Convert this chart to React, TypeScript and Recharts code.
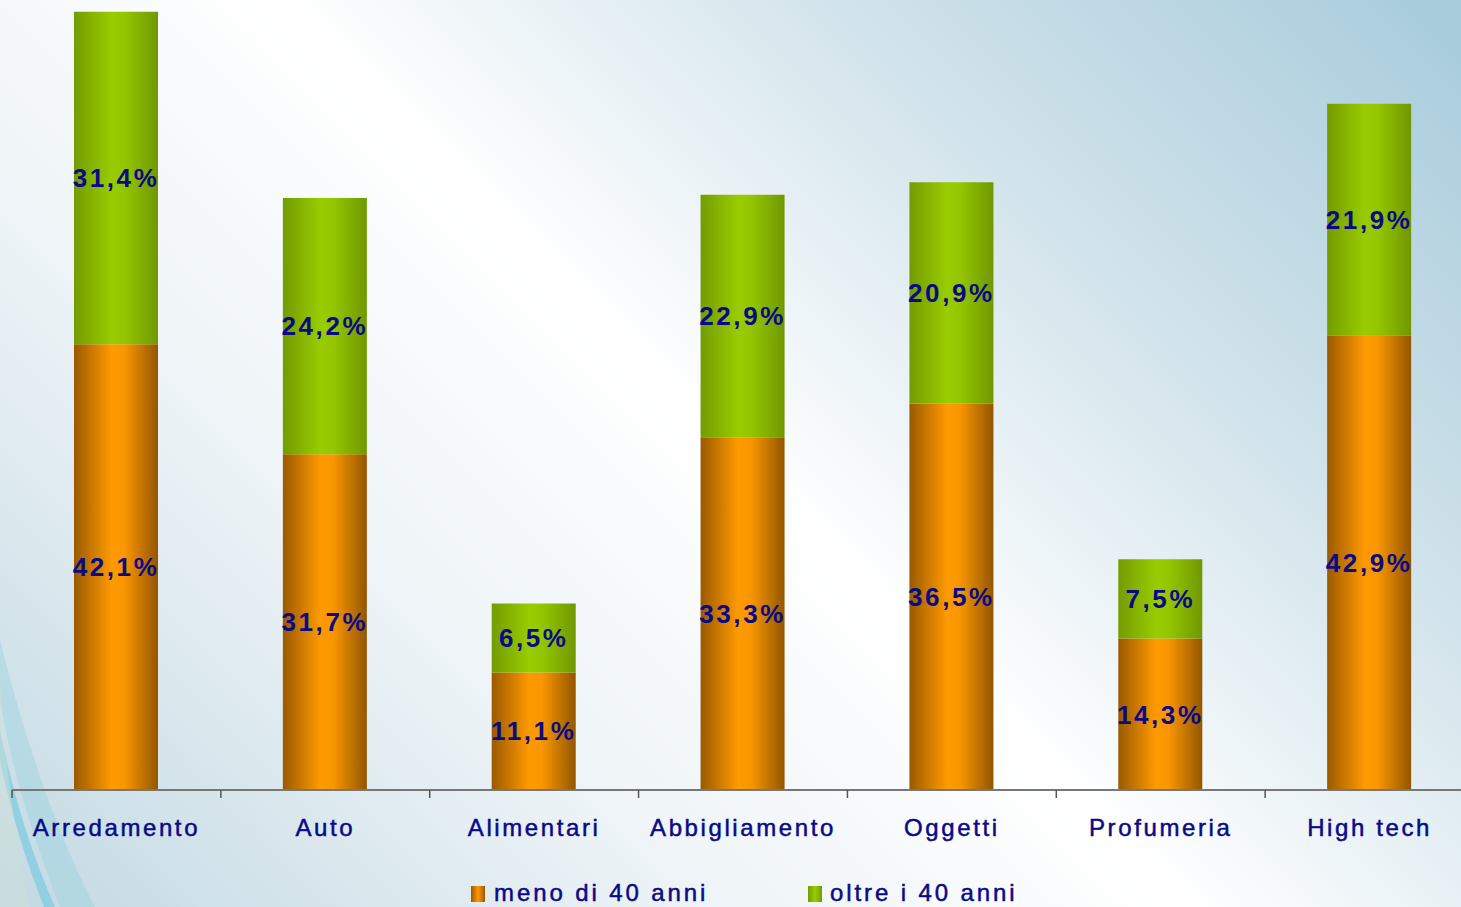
import { BarChart, Bar, XAxis, YAxis, LabelList } from 'recharts';

const categories = ['Arredamento', 'Auto', 'Alimentari', 'Abbigliamento', 'Oggetti', 'Profumeria', 'High tech'];
const menoDi40 = [42.1, 31.7, 11.1, 33.3, 36.5, 14.3, 42.9];
const oltre40 = [31.4, 24.2, 6.5, 22.9, 20.9, 7.5, 21.9];
const seriesNames = ['meno di 40 anni', 'oltre i 40 anni'];

const data = categories.map((name, i) => ({ name, meno: menoDi40[i], oltre: oltre40[i] }));

const NAVY = '#0a0a86';
const fmt = (v: any) => `${Number(v).toFixed(1).replace('.', ',')}%`;

function CategoryTick(props: any) {
  const { x, y, payload, index } = props;
  const half = payload.offset ?? 0;
  return (
    <g>
      <line x1={x - half} x2={x - half} y1={y} y2={y + 8} stroke="#555" strokeWidth={1.5} />
      {index === categories.length - 1 && (
        <line x1={x + half} x2={x + half} y1={y} y2={y + 8} stroke="#555" strokeWidth={1.5} />
      )}
      <text
        x={x}
        y={y + 46}
        textAnchor="middle"
        fill={NAVY}
        fontFamily="'Liberation Sans', Arial, sans-serif"
        fontSize={24}
        letterSpacing={2.6}
        stroke={NAVY}
        strokeWidth={0.5}
      >
        {payload.value}
      </text>
    </g>
  );
}

function Swoosh() {
  return (
    <svg width={1461} height={907} style={{ position: 'absolute', left: 0, top: 0 }}>
      <path d="M0,640 C20,720 50,820 95,907 L60,907 C30,830 10,760 0,700 Z" fill="#9fd3e0" opacity={0.5} />
      <path d="M0,730 C12,790 30,850 55,907 L44,907 C22,850 8,800 0,760 Z" fill="#7fcbe0" opacity={0.75} />
      <path d="M0,680 C5,760 15,840 30,907 L0,907 Z" fill="#cfe0d8" opacity={0.5} />
    </svg>
  );
}

function LegendBox() {
  const items = [
    { x: 471, tx: 494, grad: 'legOrange', label: seriesNames[0] },
    { x: 808, tx: 830, grad: 'legGreen', label: seriesNames[1] },
  ];
  return (
    <svg width={1461} height={907} style={{ position: 'absolute', left: 0, top: 0 }}>
      <defs>
        <linearGradient id="legOrange" x1="0" x2="1" y1="0" y2="0">
          <stop offset="0" stopColor="#9a5a00" />
          <stop offset="0.5" stopColor="#ff9900" />
          <stop offset="1" stopColor="#9a5a00" />
        </linearGradient>
        <linearGradient id="legGreen" x1="0" x2="1" y1="0" y2="0">
          <stop offset="0" stopColor="#739c00" />
          <stop offset="0.5" stopColor="#99cc00" />
          <stop offset="1" stopColor="#739c00" />
        </linearGradient>
      </defs>
      {items.map((it) => (
        <g key={it.label}>
          <rect x={it.x} y={886} width={14} height={16} fill={`url(#${it.grad})`} />
          <text
            x={it.tx}
            y={901}
            fill={NAVY}
            fontFamily="'Liberation Sans', Arial, sans-serif"
            fontSize={24}
            letterSpacing={2.9}
            stroke={NAVY}
            strokeWidth={0.5}
          >
            {it.label}
          </text>
        </g>
      ))}
    </svg>
  );
}

export default function App() {
  return (
    <div
      style={{
        position: 'absolute',
        left: 0,
        top: 0,
        width: 1461,
        height: 907,
        overflow: 'hidden',
        background: 'linear-gradient(225deg, #a6cbdb 0%, #cfe2ea 25%, #ffffff 50%, #eef4f7 70%, #c2d9e3 100%)',
      }}
    >
      <Swoosh />
      <div style={{ position: 'absolute', left: 0, top: 0 }}>
        <BarChart width={1474} height={907} data={data} margin={{ top: 0, right: 0, left: 12, bottom: 57 }}>
          <defs>
            <linearGradient id="gOrange" x1="0" x2="1" y1="0" y2="0">
              <stop offset="0" stopColor="#9a5a00" />
              <stop offset="0.45" stopColor="#ff9a00" />
              <stop offset="0.6" stopColor="#f99600" />
              <stop offset="1" stopColor="#935600" />
            </linearGradient>
            <linearGradient id="gGreen" x1="0" x2="1" y1="0" y2="0">
              <stop offset="0" stopColor="#739c00" />
              <stop offset="0.45" stopColor="#99cc00" />
              <stop offset="0.6" stopColor="#94c600" />
              <stop offset="1" stopColor="#6f9800" />
            </linearGradient>
          </defs>
          <XAxis
            dataKey="name"
            height={60}
            axisLine={{ stroke: '#777', strokeWidth: 2 }}
            tickLine={false}
            tickSize={0}
            tickMargin={0}
            interval={0}
            tick={<CategoryTick />}
          />
          <YAxis hide domain={[0, 74.6]} />
          <Bar dataKey="meno" name={seriesNames[0]} stackId="a" fill="url(#gOrange)" barSize={84} isAnimationActive={false}>
            <LabelList
              dataKey="meno"
              position="center"
              formatter={fmt}
              fill={NAVY}
              fontFamily="'Liberation Sans', Arial, sans-serif"
              fontWeight="bold"
              fontSize={26}
              letterSpacing={2.6}
            />
          </Bar>
          <Bar dataKey="oltre" name={seriesNames[1]} stackId="a" fill="url(#gGreen)" barSize={84} isAnimationActive={false}>
            <LabelList
              dataKey="oltre"
              position="center"
              formatter={fmt}
              fill={NAVY}
              fontFamily="'Liberation Sans', Arial, sans-serif"
              fontWeight="bold"
              fontSize={26}
              letterSpacing={2.6}
            />
          </Bar>
        </BarChart>
      </div>
      <LegendBox />
    </div>
  );
}
